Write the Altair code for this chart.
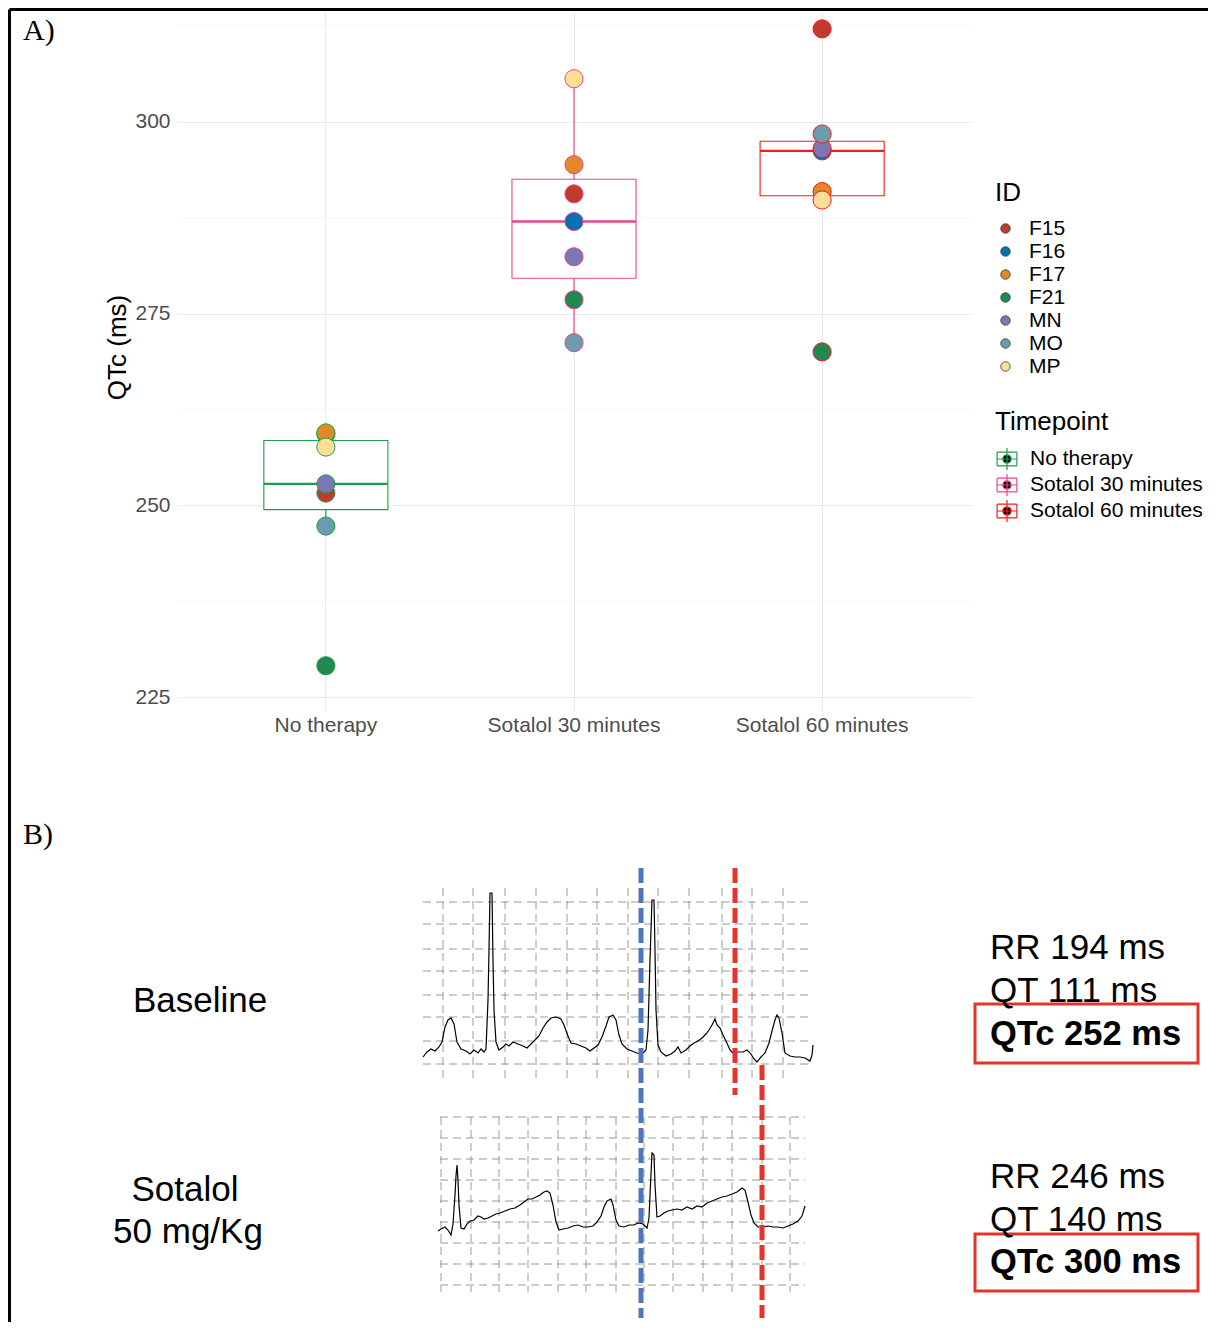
import altair as alt
import pandas as pd

# ---------------- Panel A data ----------------
timepoints = ["No therapy", "Sotalol 30 minutes", "Sotalol 60 minutes"]
ids = ["F15", "F16", "F17", "F21", "MN", "MO", "MP"]
qtc_no_therapy = [251.6, 259.3, 259.45, 229.1, 252.8, 247.3, 257.6]
qtc_sotalol_30 = [290.6, 287.0, 294.4, 276.8, 282.4, 271.2, 305.6]
qtc_sotalol_60 = [312.1, 296.2, 290.9, 270.0, 296.5, 298.4, 289.8]
y_ticks = [225, 250, 275, 300]
y_minor = [237.5, 262.5, 287.5, 312.5]

tp_colors = ["#1F9E4A", "#E8478B", "#F41B1B"]
id_colors = ["#C13B2C", "#0072B2", "#E1892A", "#20894F", "#7A77B4", "#6C9BAF", "#FDDE97"]

rows = []
for tp, vals in zip(timepoints, [qtc_no_therapy, qtc_sotalol_30, qtc_sotalol_60]):
    for i, v in zip(ids, vals):
        rows.append({"Timepoint": tp, "ID": i, "QTc": v})
df = pd.DataFrame(rows)

# ---------------- Panel B data (figure coordinates) ----------------
ecg1_x = [423, 427, 431, 435, 439, 442, 445, 448, 451, 454, 457, 461, 466, 470, 474, 478, 481, 484, 486, 488,
          489, 490, 492, 493, 494, 496, 499, 503, 506, 509, 513, 518, 523, 527, 531, 535, 539, 543, 547, 551,
          556, 561, 564, 568, 571, 576, 581, 586, 590, 594, 598, 602, 606, 609, 613, 616, 619, 622, 627, 632,
          637, 642, 646, 648, 650, 652, 654, 655, 656, 658, 661, 666, 671, 675, 678, 681, 686, 690, 694, 698,
          702, 706, 709, 712, 715, 717, 720, 723, 726, 730, 733, 738, 743, 747, 751, 754, 757, 761, 765, 769,
          772, 775, 777, 779, 782, 785, 790, 795, 800, 805, 810, 812, 813]
ecg1_y = [1057, 1052, 1049, 1051, 1047, 1042, 1027, 1020, 1018, 1024, 1042, 1049, 1051, 1054, 1050, 1053, 1049, 1052, 1049, 1000,
          950, 893, 893, 960, 1010, 1042, 1050, 1047, 1044, 1046, 1042, 1044, 1046, 1048, 1044, 1040, 1036, 1028, 1022, 1018,
          1017, 1019, 1025, 1036, 1043, 1044, 1046, 1048, 1051, 1048, 1045, 1037, 1026, 1017, 1015, 1020, 1035, 1044, 1049, 1051,
          1053, 1054, 1050, 1030, 960, 900, 900, 950, 1010, 1045, 1052, 1056, 1054, 1051, 1047, 1053, 1050, 1046, 1043, 1041,
          1038, 1034, 1030, 1025, 1019, 1025, 1028, 1035, 1041, 1050, 1053, 1052, 1052, 1050, 1054, 1059, 1062, 1057, 1053, 1043,
          1031, 1020, 1015, 1018, 1033, 1053, 1056, 1057, 1057, 1058, 1061, 1055, 1045]
ecg2_x = [438, 441, 445, 448, 451, 453, 455, 456, 457, 458, 459, 461, 464, 467, 470, 474, 478, 481, 484, 488,
          492, 496, 500, 505, 510, 515, 520, 524, 528, 532, 536, 540, 544, 547, 550, 553, 556, 559, 563, 568,
          573, 578, 583, 588, 593, 597, 601, 604, 607, 611, 613, 616, 619, 624, 629, 634, 638, 643, 647, 649,
          650, 652, 654, 655, 657, 660, 664, 668, 672, 677, 682, 687, 692, 697, 702, 707, 712, 717, 722, 727,
          732, 737, 742, 745, 748, 751, 754, 758, 763, 768, 773, 778, 783, 788, 793, 798, 802, 805]
ecg2_y = [1231, 1229, 1227, 1230, 1235, 1224, 1195, 1176, 1165, 1180, 1205, 1228, 1229, 1224, 1221, 1220, 1216, 1217, 1219, 1218,
          1216, 1214, 1213, 1211, 1209, 1208, 1205, 1202, 1199, 1199, 1197, 1195, 1192, 1191, 1193, 1205, 1222, 1230, 1229, 1228,
          1226, 1225, 1227, 1227, 1226, 1222, 1216, 1207, 1201, 1199, 1205, 1220, 1226, 1227, 1225, 1225, 1223, 1224, 1228, 1218,
          1195, 1153, 1155, 1185, 1217, 1216, 1213, 1211, 1210, 1209, 1210, 1207, 1209, 1206, 1207, 1203, 1201, 1199, 1197, 1196,
          1194, 1192, 1188, 1190, 1202, 1215, 1223, 1227, 1227, 1226, 1227, 1227, 1228, 1226, 1224, 1221, 1216, 1206]

grid1_h = [902, 924, 949, 971, 995, 1017, 1041, 1064]
grid1_v = [443, 473, 505, 536, 567, 597, 628, 658, 689, 722, 752, 783]
grid2_h = [1117, 1138, 1159, 1180, 1201, 1222, 1243, 1264, 1285]
grid2_v = [441, 471, 499, 528, 558, 586, 616, 644, 673, 703, 732, 762, 790]

panel_labels = ["A)", "B)"]
row_labels = ["Baseline", "Sotalol", "50 mg/Kg"]
stats_plain = ["RR 194 ms", "QT 111 ms", "RR 246 ms", "QT 140 ms"]
stats_bold = ["QTc 252 ms", "QTc 300 ms"]

# layout (figure pixel positions)
W, H = 794, 699
FX0, FX1, FY0, FY1 = 177, 971, 12, 711

frame = pd.DataFrame({"x": [9.5, 9.5], "x2": [1208, 9.5],
                      "y": [9.5, 9.5], "y2": [9.5, 1322]})

grid_rows = []
for y in grid1_h:
    grid_rows.append({"x": 423, "x2": 813, "y": y, "y2": y})
for x in grid1_v:
    grid_rows.append({"x": x, "x2": x, "y": 888, "y2": 1080})
for y in grid2_h:
    grid_rows.append({"x": 440, "x2": 805, "y": y, "y2": y})
for x in grid2_v:
    grid_rows.append({"x": x, "x2": x, "y": 1117, "y2": 1292})
grid_df = pd.DataFrame(grid_rows)

ecg_df = pd.concat([
    pd.DataFrame({"x": ecg1_x, "y": ecg1_y, "trace": "baseline", "i": range(len(ecg1_x))}),
    pd.DataFrame({"x": ecg2_x, "y": ecg2_y, "trace": "sotalol", "i": range(len(ecg2_x))}),
])

markers = pd.DataFrame({"x": [641, 735, 762], "y": [868, 868, 1065], "y2": [1318, 1095, 1318],
                        "c": ["#4A78B8", "#E8332A", "#E8332A"]})
boxes_df = pd.DataFrame({"x": [975, 975], "x2": [1198, 1198], "y": [1004, 1234], "y2": [1063, 1291]})

letters_df = pd.DataFrame({"t": panel_labels, "x": [23, 23], "y": [40, 844]})
rowlab_left = pd.DataFrame({"t": row_labels[:1], "x": [133], "y": [1012]})
rowlab_center = pd.DataFrame({"t": row_labels[1:], "x": [185, 188], "y": [1201, 1243]})
plain_df = pd.DataFrame({"t": stats_plain, "x": [990] * 4, "y": [959, 1002, 1188, 1231]})
bold_df = pd.DataFrame({"t": stats_bold, "x": [990, 990], "y": [1045, 1273]})

# ---------------- Panel A ----------------
xs = alt.Scale(domain=timepoints, paddingInner=0.5, paddingOuter=0.35)
ys = alt.Scale(domain=[223.2, 314.3], nice=False, zero=False)
stroke_scale = alt.Scale(domain=timepoints, range=tp_colors)
fill_scale = alt.Scale(domain=ids, range=id_colors)

x_axis = alt.Axis(title=None, labelAngle=0, labelFontSize=21, labelColor="#4d4d4d", labelPadding=3,
                  ticks=False, domain=False, grid=True, gridColor="#ebebeb", gridWidth=1.1, bandPosition=0.5)
y_axis = alt.Axis(values=y_ticks, title="QTc (ms)", titleFontSize=26, titleColor="black",
                  titleFontWeight="normal", labelFontSize=21, labelColor="#4d4d4d", labelPadding=7,
                  ticks=False, domain=False, grid=True, gridColor="#ebebeb", gridWidth=1.1,
                  titleX=-60, titleY=335, titleAngle=270, titleAlign="center", titleBaseline="middle")

tp_symbol = ("M-0.9,-0.62H0.9M0.9,-0.62V0.62M0.9,0.62H-0.9M-0.9,0.62V-0.62"
             "M-0.9,0H0.9M0,-1V1"
             "M0.38,0A0.38,0.38,0,1,1,-0.38,0A0.38,0.38,0,1,1,0.38,0Z")

id_legend = alt.Legend(title="ID", orient="none", legendX=818, legendY=168, padding=0,
                       titleFontSize=26, titleFontWeight="normal", titleColor="black", titlePadding=12,
                       labelFontSize=21, labelColor="black", symbolType="circle", symbolSize=90,
                       symbolStrokeColor="#333333", symbolStrokeWidth=0.8, rowPadding=1,
                       symbolOffset=0, labelOffset=13, labelLimit=400)
tp_legend = alt.Legend(title="Timepoint", orient="none", legendX=818, legendY=397, padding=0,
                       titleFontSize=26, titleFontWeight="normal", titleColor="black", titlePadding=12,
                       labelFontSize=21, labelColor="black", symbolType=tp_symbol, symbolSize=484,
                       symbolStrokeWidth=1.2, rowPadding=-8, labelOffset=11, labelLimit=400)

X = alt.X("Timepoint:N", scale=xs, sort=timepoints, axis=x_axis)
S = alt.Stroke("Timepoint:N", scale=stroke_scale, legend=tp_legend)

base = alt.Chart(df)

# empty layer that only defines the Timepoint legend key (black dot inside)
key_layer = base.transform_filter("false").mark_circle(fill="black", opacity=1, strokeWidth=1.2).encode(
    x=X, y=alt.Y("QTc:Q", scale=ys), stroke=S)

minor = alt.Chart(pd.DataFrame({"v": y_minor})).mark_rule(color="#f1f1f1", strokeWidth=0.6).encode(
    y=alt.Y("v:Q", scale=ys, axis=y_axis))

whisk = base.transform_joinaggregate(
    q1="q1(QTc)", q3="q3(QTc)", groupby=["Timepoint"]
).transform_calculate(
    iqr="datum.q3 - datum.q1"
).transform_filter(
    "datum.QTc >= datum.q1 - 1.5 * datum.iqr && datum.QTc <= datum.q3 + 1.5 * datum.iqr"
).transform_aggregate(
    lo="min(QTc)", hi="max(QTc)", q1="max(q1)", q3="max(q3)", groupby=["Timepoint"]
)
whisk_lo = whisk.mark_rule(strokeWidth=1.2).encode(x=X, y=alt.Y("lo:Q", scale=ys), y2="q1:Q", stroke=S)
whisk_hi = whisk.mark_rule(strokeWidth=1.2).encode(x=X, y=alt.Y("q3:Q", scale=ys), y2="hi:Q", stroke=S)

box = base.transform_aggregate(
    q1="q1(QTc)", q3="q3(QTc)", groupby=["Timepoint"]
).mark_bar(fill="white", strokeWidth=1.1).encode(
    x=X, y=alt.Y("q1:Q", scale=ys), y2="q3:Q", stroke=S)

median = base.transform_aggregate(
    med="median(QTc)", groupby=["Timepoint"]
).mark_bar(fill="transparent", strokeWidth=2.4).encode(
    x=X, y=alt.Y("med:Q", scale=ys), y2="med:Q", stroke=S)

points = base.mark_circle(size=330, opacity=1, strokeWidth=1).encode(
    x=X, y=alt.Y("QTc:Q", scale=ys),
    fill=alt.Fill("ID:N", scale=fill_scale, legend=id_legend),
    stroke=S,
)

panel_a = alt.layer(key_layer, minor, whisk_lo, whisk_hi, box, median, points)

# ---------------- Panel B ----------------
fx = alt.Scale(domain=[FX0, FX1], nice=False, zero=False)
fy = alt.Scale(domain=[FY0, FY1], reverse=True, nice=False, zero=False)
BX = alt.X("x:Q", scale=fx, axis=None)
BY = alt.Y("y:Q", scale=fy, axis=None)

frame_l = alt.Chart(frame).mark_rule(color="black", strokeWidth=3).encode(x=BX, x2="x2:Q", y=BY, y2="y2:Q")
grid_l = alt.Chart(grid_df).mark_rule(color="#9a9a9a", strokeWidth=1, strokeDash=[8, 5]).encode(
    x=BX, x2="x2:Q", y=BY, y2="y2:Q")
ecg_l = alt.Chart(ecg_df).mark_line(color="black", strokeWidth=1.2).encode(
    x=BX, y=BY, detail="trace:N", order="i:Q")
marker_l = alt.Chart(markers).mark_rule(strokeWidth=5, strokeDash=[15, 5]).encode(
    x=BX, y=BY, y2="y2:Q", stroke=alt.Stroke("c:N", scale=None))
box_l = alt.Chart(boxes_df).mark_rect(fill="transparent", stroke="#E5352A", strokeWidth=3).encode(
    x=BX, x2="x2:Q", y=BY, y2="y2:Q")
letters_l = alt.Chart(letters_df).mark_text(align="left", baseline="alphabetic", font="Liberation Serif",
                                            fontSize=30, color="black").encode(x=BX, y=BY, text="t:N")
rowl_l = alt.Chart(rowlab_left).mark_text(align="left", baseline="alphabetic", fontSize=35,
                                          color="black").encode(x=BX, y=BY, text="t:N")
rowc_l = alt.Chart(rowlab_center).mark_text(align="center", baseline="alphabetic", fontSize=35,
                                            color="black").encode(x=BX, y=BY, text="t:N")
plain_l = alt.Chart(plain_df).mark_text(align="left", baseline="alphabetic", fontSize=35,
                                        color="black").encode(x=BX, y=BY, text="t:N")
bold_l = alt.Chart(bold_df).mark_text(align="left", baseline="alphabetic", fontSize=34.5, fontWeight="bold",
                                      color="black").encode(x=BX, y=BY, text="t:N")

panel_b = alt.layer(frame_l, grid_l, ecg_l, marker_l, box_l, letters_l, rowl_l, rowc_l, plain_l, bold_l)

chart = alt.layer(panel_a, panel_b).resolve_scale(
    x="independent", y="independent"
).properties(
    width=W, height=H, padding=0
).configure(
    font="Liberation Sans"
).configure_view(stroke=None).configure_text(font="Liberation Sans")

chart.save("out.html", embed_options={"renderer": "svg", "actions": False})
